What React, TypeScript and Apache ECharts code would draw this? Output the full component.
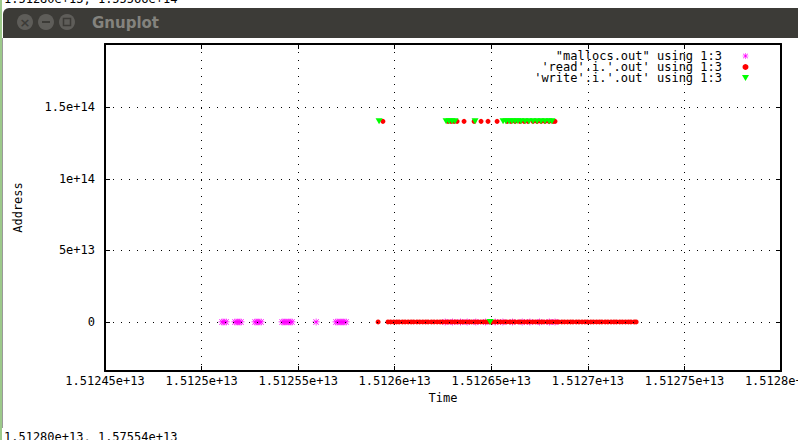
import React, { useEffect, useRef } from "react";
import * as echarts from "echarts";

// ---- data (Time, Address) ----
const X_MIN = 1.51245e13;
const X_MAX = 1.5128e13;
const X_STEP = 5e8;
const Y_MIN = -3.43e13;
const Y_MAX = 1.944e14;
const yTicks = [0, 5e13, 1e14, 1.5e14];
const STACK_ADDR = 1.403e14;

const seriesNames = ['"mallocs.out" using 1:3', "'read'.i.'.out' using 1:3", "'write'.i.'.out' using 1:3"];

const mallocTimes = [
  1.5125106e13, 1.5125116e13, 1.5125127e13,
  1.5125173e13, 1.5125184e13, 1.5125194e13, 1.5125204e13,
  1.5125277e13, 1.5125287e13, 1.5125297e13, 1.5125308e13,
  1.5125417e13, 1.5125427e13, 1.5125437e13, 1.5125448e13, 1.5125458e13, 1.5125468e13,
  1.5125593e13,
  1.5125696e13, 1.5125706e13, 1.5125717e13, 1.5125727e13, 1.5125737e13, 1.5125748e13,
  1.5126261e13, 1.51263e13, 1.512634e13, 1.5126375e13, 1.512642e13, 1.512647e13, 1.512652e13,
  1.512656e13, 1.512661e13, 1.512666e13, 1.51267e13, 1.512675e13, 1.51268e13, 1.512683e13,
];

const readHeapTimes = [
  1.5125914e13,
  1.5125965e13, 1.5125979e13, 1.5125995e13, 1.512601e13, 1.5126023e13, 1.512604e13, 1.5126054e13,
  1.512607e13, 1.5126085e13, 1.5126098e13, 1.5126115e13, 1.5126129e13, 1.5126145e13, 1.512616e13,
  1.5126173e13, 1.512619e13, 1.5126204e13, 1.512622e13, 1.5126235e13, 1.5126248e13, 1.5126265e13,
  1.5126279e13, 1.5126295e13, 1.512631e13, 1.5126323e13, 1.512634e13, 1.5126354e13, 1.512637e13,
  1.5126385e13, 1.5126398e13, 1.5126415e13, 1.5126429e13, 1.5126445e13, 1.512646e13, 1.5126473e13,
  1.512649e13, 1.5126504e13, 1.512652e13, 1.5126535e13, 1.5126548e13, 1.5126565e13, 1.5126579e13,
  1.5126595e13, 1.512661e13, 1.5126623e13, 1.512664e13, 1.5126654e13, 1.512667e13, 1.5126685e13,
  1.5126698e13, 1.5126715e13, 1.5126729e13, 1.5126745e13, 1.512676e13, 1.5126773e13, 1.512679e13,
  1.5126804e13, 1.512682e13, 1.5126835e13, 1.5126848e13, 1.5126865e13, 1.5126879e13, 1.5126895e13,
  1.512691e13, 1.5126923e13, 1.512694e13, 1.5126954e13, 1.512697e13, 1.5126985e13, 1.5126998e13,
  1.5127015e13, 1.5127029e13, 1.5127045e13, 1.512706e13, 1.5127073e13, 1.512709e13, 1.5127104e13,
  1.512712e13, 1.5127135e13, 1.5127148e13, 1.5127165e13, 1.5127179e13, 1.5127195e13, 1.512721e13,
  1.5127223e13, 1.512724e13, 1.512725e13,
];

const readStackTimes = [
  1.5125939e13, 1.5126276e13, 1.5126292e13, 1.5126307e13, 1.5126323e13, 1.5126359e13, 1.5126411e13,
  1.5126447e13, 1.5126483e13, 1.512653e13, 1.5126582e13, 1.5126602e13, 1.5126623e13, 1.5126649e13,
  1.512667e13, 1.512669e13, 1.5126716e13, 1.5126737e13, 1.5126758e13, 1.5126778e13, 1.5126799e13,
  1.512682e13, 1.512683e13,
];

const writeStackTimes = [
  1.5125919e13, 1.5126266e13, 1.5126281e13, 1.5126297e13, 1.5126312e13, 1.5126416e13, 1.5126561e13,
  1.5126576e13, 1.5126592e13, 1.5126607e13, 1.5126623e13, 1.5126638e13, 1.5126654e13, 1.5126675e13,
  1.5126695e13, 1.5126716e13, 1.5126737e13, 1.5126758e13, 1.5126778e13, 1.5126799e13, 1.5126814e13,
];
const writeHeapTimes = [1.5126494e13];

const MONO = "DejaVu Sans Mono";

function fmtG(v: number): string {
  if (v === 0) return "0";
  const e = Math.floor(Math.log10(Math.abs(v)) + 1e-9);
  let m = (v / Math.pow(10, e)).toPrecision(6);
  m = m.replace(/\.?0+$/, "");
  const es = Math.abs(e) < 10 ? "0" + Math.abs(e) : String(Math.abs(e));
  return m + "e" + (e < 0 ? "-" : "+") + es;
}

const ASTERISK =
  "path://M0,4.5H10V5.5H0Z M4.5,0H5.5V10H4.5Z M1.5,0.8L9.2,8.5L8.5,9.2L0.8,1.5Z M8.5,0.8L9.2,1.5L1.5,9.2L0.8,8.5Z";
const DOWN_TRIANGLE = "path://M0,0L10,0L5,8.5Z";

export default function App() {
  const ref = useRef<HTMLDivElement>(null);
  useEffect(() => {
    if (!ref.current) return;
    const chart = echarts.init(ref.current, null, { renderer: "svg" });
    const axisLine = { show: true, onZero: false, lineStyle: { color: "#000", width: 2 } };
    const tick = { show: true, inside: true, length: 5, lineStyle: { color: "#000", width: 1 } };
    const gridDots = { color: "#000", width: 1, type: [1, 7] as any };
    const labelStyle = { color: "#000", fontFamily: MONO, fontSize: 12 };

    chart.setOption({
      animation: false,
      backgroundColor: "#fff",
      grid: { left: 105, right: 17, top: 44, bottom: 69, containLabel: false, outerBoundsMode: "none" },
      legend: {
        data: seriesNames,
        orient: "vertical",
        right: 44,
        top: 45,
        align: "right",
        itemWidth: 7,
        itemHeight: 6,
        itemGap: -1,
        selectedMode: false,
        textStyle: { color: "#000", fontFamily: MONO, fontSize: 12, lineHeight: 11, padding: [0, 15, 0, 0] },
      },
      xAxis: [
        {
          type: "value",
          position: "bottom",
          min: X_MIN,
          max: X_MAX,
          interval: X_STEP,
          axisLine,
          axisTick: tick,
          axisLabel: { ...labelStyle, margin: 4, formatter: (v: number) => fmtG(v), showMinLabel: true, showMaxLabel: true, hideOverlap: false },
          splitLine: { show: true, lineStyle: gridDots },
          name: "Time",
          nameLocation: "middle",
          nameGap: 21,
          nameTextStyle: { ...labelStyle },
        },
        {
          type: "value",
          position: "top",
          min: X_MIN,
          max: X_MAX,
          interval: X_STEP,
          axisLine,
          axisTick: tick,
          axisLabel: { show: false },
          splitLine: { show: false },
        },
      ],
      yAxis: [
        {
          type: "value",
          position: "left",
          min: Y_MIN,
          max: Y_MAX,
          axisLine,
          axisTick: { ...tick, customValues: yTicks },
          axisLabel: { ...labelStyle, margin: 10, customValues: yTicks, formatter: (v: number) => fmtG(v) },
          splitLine: { show: false },
          name: "Address",
          nameLocation: "middle",
          nameGap: 81,
          nameRotate: 90,
          nameTextStyle: { ...labelStyle },
        },
        {
          type: "value",
          position: "right",
          min: Y_MIN,
          max: Y_MAX,
          axisLine,
          axisTick: { ...tick, customValues: yTicks },
          axisLabel: { show: false, customValues: yTicks },
          splitLine: { show: false },
        },
      ],
      graphic: [
        { type: "rect", shape: { x: 0, y: 0, width: 2, height: 440 }, style: { fill: "#9cc98a" } },
        { type: "rect", shape: { x: 2, y: 38, width: 1, height: 390 }, style: { fill: "#9a9a9a" } },
        {
          type: "text",
          x: 4,
          y: -7,
          style: { text: "1.51280e+13, 1.55566e+14", fill: "#000", font: `12px "${MONO}"`, textVerticalAlign: "top" },
        },
        { type: "rect", shape: { x: 3, y: 8, width: 800, height: 30, r: [6, 6, 0, 0] }, style: { fill: "#3c3b37" } },
        { type: "circle", shape: { cx: 25, cy: 22, r: 8 }, style: { fill: "#5e5d59" } },
        { type: "circle", shape: { cx: 46, cy: 22, r: 8 }, style: { fill: "#5e5d59" } },
        { type: "circle", shape: { cx: 67, cy: 22, r: 8 }, style: { fill: "#5e5d59" } },
        { type: "text", x: 25, y: 22, style: { text: "×", fill: "#3c3b37", font: 'bold 13px "DejaVu Sans"', textAlign: "center", textVerticalAlign: "middle" } },
        { type: "rect", shape: { x: 42, y: 21, width: 8, height: 2 }, style: { fill: "#3c3b37" } },
        { type: "rect", shape: { x: 63.5, y: 18.5, width: 7, height: 7 }, style: { fill: "none", stroke: "#3c3b37", lineWidth: 1.5 } },
        { type: "text", x: 92, y: 23, style: { text: "Gnuplot", fill: "#84837e", font: 'bold 15px "DejaVu Sans"', textVerticalAlign: "middle" } },
        {
          type: "text",
          x: 4,
          y: 431,
          style: { text: "1.51280e+13, 1.57554e+13", fill: "#000", font: `12px "${MONO}"`, textVerticalAlign: "top" },
        },
      ],
      series: [
        {
          type: "line",
          name: "grid",
          data: [],
          z: 1,
          silent: true,
          markLine: {
            silent: true,
            symbol: ["none", "none"],
            label: { show: false },
            lineStyle: { color: "#000", width: 1, type: [1, 7] },
            data: yTicks.map((v) => ({ yAxis: v })),
          },
        },
        {
          type: "scatter",
          name: seriesNames[0],
          symbol: ASTERISK,
          symbolSize: 7,
          itemStyle: { color: "#ff00ff", opacity: 1 },
          data: mallocTimes.map((t) => [t, 0]),
          z: 3,
        },
        {
          type: "scatter",
          name: seriesNames[1],
          symbol: "circle",
          symbolSize: 5,
          itemStyle: { color: "#ff0000", opacity: 1 },
          data: [...readHeapTimes.map((t) => [t, 0]), ...readStackTimes.map((t) => [t, STACK_ADDR])],
          z: 4,
        },
        {
          type: "scatter",
          name: seriesNames[2],
          symbol: DOWN_TRIANGLE,
          symbolSize: [7, 6],
          itemStyle: { color: "#00ff00", opacity: 1 },
          data: [...writeHeapTimes.map((t) => [t, 0]), ...writeStackTimes.map((t) => [t, STACK_ADDR])],
          z: 5,
        },
      ],
    });
    return () => chart.dispose();
  }, []);
  return <div ref={ref} style={{ position: "fixed", left: 0, top: 0, width: 798, height: 440 }} />;
}
